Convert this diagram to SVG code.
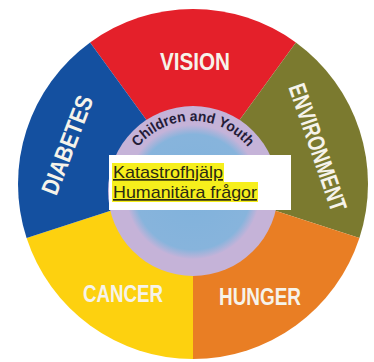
<svg xmlns="http://www.w3.org/2000/svg" width="374" height="362" viewBox="0 0 374 362">
  <style>
    .seg { stroke: none; }
    .big { font-family: "Liberation Sans", Arial, sans-serif; font-weight: bold; font-size: 24px; fill: #f6f3ea; text-anchor: middle; }
    .ring { font-family: "Liberation Sans", Arial, sans-serif; font-weight: bold; font-size: 14.5px; fill: #241c38; }
    .box { font-family: "Liberation Sans", Arial, sans-serif; font-size: 17px; fill: #2b2a12; text-decoration: underline; }
    .hl { fill: #f6ef1c; }
  </style>
  <defs>
    <radialGradient id="innerGrad" cx="0.5" cy="0.5" r="0.5">
      <stop offset="0" stop-color="#80b2dc"/>
      <stop offset="0.86" stop-color="#87b4dc"/>
      <stop offset="1" stop-color="#c3b3d9"/>
    </radialGradient>
    <path id="ringArc" d="M 122 192 A 71 71 0 0 1 264 192"/>
  </defs>
  <rect width="374" height="362" fill="#ffffff"/>

  <g id="vision">
    <path class="seg" fill="#e4202a" d="M193 184 L90.1 42.4 A175 175 0 0 1 295.9 42.4 Z"/>
    <text class="big" x="195" y="70" textLength="70" lengthAdjust="spacingAndGlyphs">VISION</text>
  </g>
  <g id="environment">
    <path class="seg" fill="#7b7a2f" d="M193 184 L295.9 42.4 A175 175 0 0 1 359.4 238.1 Z"/>
    <text class="big" transform="translate(310 150) rotate(71)" x="0" y="0" font-size="23" textLength="133" lengthAdjust="spacingAndGlyphs">ENVIRONMENT</text>
  </g>
  <g id="hunger">
    <path class="seg" fill="#e97e24" d="M193 184 L359.4 238.1 A175 175 0 0 1 193 359 Z"/>
    <text class="big" x="260" y="305" textLength="82" lengthAdjust="spacingAndGlyphs">HUNGER</text>
  </g>
  <g id="cancer">
    <path class="seg" fill="#fdd10f" d="M193 184 L193 359 A175 175 0 0 1 26.6 238.1 Z"/>
    <text class="big" x="123" y="302" textLength="80" lengthAdjust="spacingAndGlyphs">CANCER</text>
  </g>
  <g id="diabetes">
    <path class="seg" fill="#1450a0" d="M193 184 L26.6 238.1 A175 175 0 0 1 90.1 42.4 Z"/>
    <text class="big" transform="translate(75 148) rotate(-69)" x="0" y="0" textLength="104" lengthAdjust="spacingAndGlyphs">DIABETES</text>
  </g>

  <g id="children-and-youth">
    <circle cx="193" cy="191" r="85" fill="#c5b3d8"/>
    <circle cx="193" cy="192" r="67" fill="url(#innerGrad)"/>
    <text class="ring"><textPath href="#ringArc" startOffset="50%" text-anchor="middle" textLength="126" lengthAdjust="spacingAndGlyphs">Children and Youth</textPath></text>
  </g>

  <g id="disaster-box">
    <rect x="109" y="155" width="182" height="55" fill="#ffffff"/>
    <rect class="hl" x="112" y="163" width="112" height="19"/>
    <rect class="hl" x="112" y="182" width="146" height="20"/>
    <text class="box" x="113" y="178" textLength="110" lengthAdjust="spacingAndGlyphs">Katastrofhjälp</text>
    <text class="box" x="113" y="198" textLength="144" lengthAdjust="spacingAndGlyphs">Humanitära frågor</text>
  </g>

  <g id="connectors"/>
</svg>
